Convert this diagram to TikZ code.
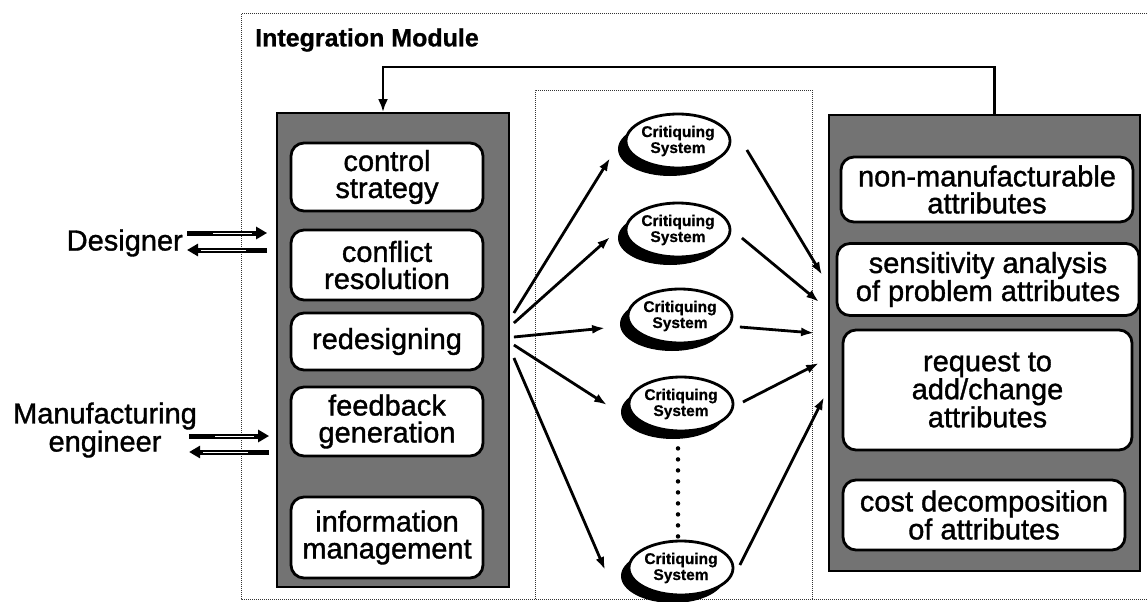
\documentclass[tikz,border=0pt]{standalone}
\usepackage{fontspec}
\setmainfont{Liberation Sans}
\newfontfamily\heavyfont{Liberation Sans}[FakeBold=1.2]
\newfontfamily\critfont{Liberation Sans Bold}[FakeBold=0.8]
\usetikzlibrary{arrows.meta,calc,shadows,shapes.geometric}
\begin{document}
\begin{tikzpicture}[x=1pt,y=-1pt,
  frame/.style={densely dotted, line width=1pt, draw=black!80},
  panel/.style={draw=black, line width=1.8pt, fill=black!55, inner sep=0pt},
  ibox/.style={draw=black, line width=2.8pt, fill=white, rounded corners=13pt, align=center, inner sep=0pt, font=\heavyfont\fontsize{29}{27}\selectfont},
  crit/.style={ellipse, draw=black, line width=2.8pt, fill=white, minimum width=104pt, minimum height=54pt, inner sep=0pt, align=center, font=\critfont\fontsize{15.5}{16}\selectfont, general shadow={fill=black, shadow xshift=-8pt, shadow yshift=-8pt}},
  arr/.style={line width=2.8pt, -{Latex[length=13pt,width=9pt]}},
  swoosh/.style={line width=5pt, -{Triangle[length=11pt,width=12pt]}},
  inner/.style={white, line width=1pt},
  lbl/.style={align=center, inner sep=0pt, font=\heavyfont\fontsize{29}{26}\selectfont},
  dotline/.style={line width=4.5pt, line cap=round, dash pattern=on 0pt off 11pt}
]
\useasboundingbox (0,0) rectangle (1148,602);

% frames
\draw[frame] (1149,14) -- (241,14) -- (241,599) -- (1149,599);
\draw[frame] (535,599) -- (535,90) -- (812,90) -- (812,599);

\node[anchor=west, font=\critfont\fontsize{25}{27}\selectfont, inner sep=0pt] (IM) at (255,40) {Integration Module};

% panels
\node[panel, minimum width=232pt, minimum height=474pt] (L) at (393,350) {};
\node[panel, minimum width=311pt, minimum height=456pt] (R) at (984.5,343) {};

% left inner boxes
\node[ibox, minimum width=192pt, minimum height=68pt] (b1) at (387,177) {control\\strategy};
\node[ibox, minimum width=192pt, minimum height=70pt] (b2) at (387,265) {conflict\\resolution};
\node[ibox, minimum width=192pt, minimum height=57pt] (b3) at (387,341.5) {redesigning};
\node[ibox, minimum width=192pt, minimum height=69pt] (b4) at (387,421.5) {feedback\\generation};
\node[ibox, minimum width=192pt, minimum height=81pt] (b5) at (387,537.5) {information\\management};

% right inner boxes
\node[ibox, minimum width=292pt, minimum height=65pt] (n1) at (987,189.5) {non-manufacturable\\attributes};
\node[ibox, minimum width=302pt, minimum height=72pt] (n2) at (988,279.5) {sensitivity analysis\\of problem attributes};
\node[ibox, minimum width=289pt, minimum height=120pt] (n3) at (987.5,390) {request to\\add/change\\attributes};
\node[ibox, minimum width=282pt, minimum height=70pt] (n4) at (984,515) {cost decomposition\\of attributes};

% critiquing systems
\node[crit] (c1) at (678,141) {Critiquing\\System};
\node[crit] (c2) at (678,230) {Critiquing\\System};
\node[crit] (c3) at (680,316) {Critiquing\\System};
\node[crit] (c4) at (681,404) {Critiquing\\System};
\node[crit] (c5) at (681,568) {Critiquing\\System};

\draw[dotline] ([xshift=-3pt,yshift=-16pt]c4.south) -- ([xshift=-3pt,yshift=3pt]c5.north);

% fan out
\draw[arr] ($(L.east)+(4,-37)$) -- ($(c1.west)+(-14.5,17)$);
\draw[arr] ($(L.east)+(4,-27)$) -- ($(c2.west)+(-14.5,7)$);
\draw[arr] ($(L.east)+(4,-13)$) -- ($(c3.west)+(-21.5,12)$);
\draw[arr] ($(L.east)+(4,-5)$) -- ($(c4.west)+(-20.5,1)$);
\draw[arr] ($(L.east)+(4,8)$) -- ($(c5.west)+(-22.5,2)$);

% fan in
\draw[arr] ($(c1.east)+(15.5,9)$) -- ($(R.west)+(-6,-68)$);
\draw[arr] ($(c2.east)+(10.5,8)$) -- ($(R.west)+(-9,-41)$);
\draw[arr] ($(c3.east)+(6.5,11)$) -- ($(R.west)+(-14,-10)$);
\draw[arr] ($(c4.east)+(8.5,-2)$) -- ($(R.west)+(-9,20)$);
\draw[arr] ($(c5.east)+(5.5,-3)$) -- ($(R.west)+(-4,54)$);

% feedback loop
\draw[line width=2.8pt, -{Latex[length=13pt,width=10pt]}] ([xshift=10pt]R.north) -- ++(0,-47) -| ([xshift=-10pt]L.north);

% actors
\node[lbl, anchor=east] (D) at (183,243) {Designer};
\node[lbl] (M) at (105,430) {Manufacturing\\engineer};

\draw[swoosh] ($(D.east)+(4,-10)$) -- ($(L.west)+(-9,-117)$);
\draw[inner] ($(D.east)+(30,-10)$) -- ($(L.west)+(-24,-117)$);
\draw[swoosh] ($(L.west)+(-9,-100)$) -- ($(D.east)+(4,7)$);
\draw[inner] ($(L.west)+(-30,-100)$) -- ($(D.east)+(18,7)$);

\draw[swoosh] ($(M.east)+(-8,6)$) -- ($(L.west)+(-7,86)$);
\draw[inner] ($(M.east)+(18,6)$) -- ($(L.west)+(-22,86)$);
\draw[swoosh] ($(L.west)+(-7,102)$) -- ($(M.east)+(-8,22)$);
\draw[inner] ($(L.west)+(-28,102)$) -- ($(M.east)+(6,22)$);
\end{tikzpicture}
\end{document}
